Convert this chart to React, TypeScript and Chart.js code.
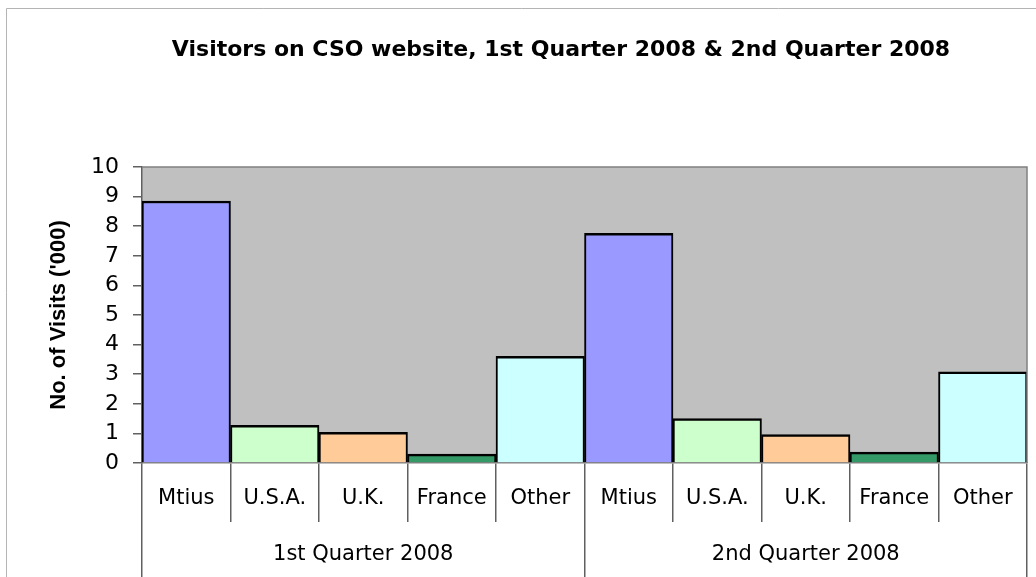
import React, { useEffect, useRef } from "react";
import { Chart, registerables } from "chart.js";

Chart.register(...registerables);

const TITLE = "Visitors on CSO website, 1st Quarter 2008 & 2nd Quarter 2008";
const Y_TITLE = "No. of Visits ('000)";
const CATEGORIES = ["Mtius", "U.S.A.", "U.K.", "France", "Other", "Mtius", "U.S.A.", "U.K.", "France", "Other"];
const GROUPS = ["1st Quarter 2008", "2nd Quarter 2008"];
const VALUES = [8.85, 1.27, 1.04, 0.3, 3.6, 7.76, 1.5, 0.96, 0.37, 3.08];
const COLORS = ["#9999FF", "#CCFFCC", "#FFCC99", "#339966", "#CCFFFF", "#9999FF", "#CCFFCC", "#FFCC99", "#339966", "#CCFFFF"];
const Y_MIN = 0;
const Y_MAX = 10;

const W = 1036;
const H = 577;

const framePlugin = {
  id: "frame",
  beforeDraw(chart: any) {
    const { ctx, chartArea } = chart;
    ctx.save();
    ctx.fillStyle = "#ffffff";
    ctx.fillRect(0, 0, W, H);
    ctx.strokeStyle = "#b4b4b4";
    ctx.lineWidth = 1;
    ctx.beginPath();
    ctx.moveTo(6.5, H);
    ctx.lineTo(6.5, 8.5);
    ctx.lineTo(W, 8.5);
    ctx.stroke();
    ctx.fillStyle = "#C0C0C0";
    ctx.fillRect(chartArea.left, chartArea.top, chartArea.right - chartArea.left, chartArea.bottom - chartArea.top);
    ctx.fillStyle = "#000";
    ctx.font = "bold 22px 'DejaVu Sans', sans-serif";
    ctx.textAlign = "center";
    ctx.textBaseline = "middle";
    ctx.fillText(TITLE, 561, 50);
    ctx.restore();
  },
  afterDatasetsDraw(chart: any) {
    const { ctx, chartArea } = chart;
    ctx.save();
    ctx.strokeStyle = "#808080";
    ctx.lineWidth = 1.5;
    ctx.beginPath();
    ctx.moveTo(chartArea.left, chartArea.top);
    ctx.lineTo(chartArea.right, chartArea.top);
    ctx.lineTo(chartArea.right, chartArea.bottom);
    ctx.stroke();
    ctx.restore();
  },
};

export default function App() {
  const ref = useRef<HTMLCanvasElement | null>(null);
  useEffect(() => {
    document.body.style.margin = "0";
    const canvas = ref.current;
    if (!canvas) return;
    const chart = new Chart(canvas, {
      type: "bar",
      data: {
        labels: CATEGORIES,
        datasets: [
          {
            data: VALUES,
            backgroundColor: COLORS,
            borderColor: "#000000",
            borderWidth: { top: 2.5, left: 2, right: 2, bottom: 0 },
            borderSkipped: false,
            barPercentage: 1,
            categoryPercentage: 1,
          },
        ],
      },
      options: {
        responsive: false,
        animation: false,
        layout: { padding: { top: 167, right: 9, left: 0, bottom: 0 } },
        plugins: {
          legend: { display: false },
          tooltip: { enabled: false },
          title: { display: false },
        },
        scales: {
          x: {
            type: "category",
            position: "bottom",
            offset: true,
            grid: {
              offset: true,
              drawOnChartArea: false,
              drawTicks: true,
              tickLength: 59,
              color: "#606060",
              lineWidth: 1.5,
            },
            border: { display: true, color: "#808080", width: 1.5 },
            ticks: {
              padding: -36,
              color: "#000",
              maxRotation: 0,
              autoSkip: false,
              font: { family: "'DejaVu Sans', sans-serif", size: 21 },
            },
            afterFit(scale: any) {
              scale.height = 59;
            },
          },
          x2: {
            type: "category",
            position: "bottom",
            labels: GROUPS,
            offset: true,
            grid: {
              offset: true,
              drawOnChartArea: false,
              drawTicks: true,
              tickLength: 60,
              color: "#606060",
              lineWidth: 1.5,
            },
            border: { display: false },
            ticks: {
              padding: -40,
              color: "#000",
              maxRotation: 0,
              autoSkip: false,
              font: { family: "'DejaVu Sans', sans-serif", size: 21 },
            },
            afterFit(scale: any) {
              scale.height = 55;
            },
          },
          y: {
            min: Y_MIN,
            max: Y_MAX,
            ticks: {
              stepSize: 1,
              autoSkip: false,
              color: "#000",
              padding: 14,
              font: { family: "'DejaVu Sans', sans-serif", size: 22 },
            },
            grid: {
              drawOnChartArea: false,
              drawTicks: true,
              tickLength: 9,
              color: "#606060",
              lineWidth: 1.5,
            },
            border: { display: true, color: "#606060", width: 1.5 },
            title: {
              display: true,
              text: Y_TITLE,
              color: "#000",
              font: { family: "'Liberation Sans', Arial, sans-serif", size: 22, weight: "bold" },
              padding: { top: 46, bottom: 0 },
            },
            afterFit(scale: any) {
              scale.width = 142;
            },
          },
        },
      },
      plugins: [framePlugin],
    } as any);
    return () => chart.destroy();
  }, []);
  return (
    <div style={{ width: W, height: H }}>
      <canvas ref={ref} width={W} height={H} style={{ display: "block", width: W, height: H }} />
    </div>
  );
}
